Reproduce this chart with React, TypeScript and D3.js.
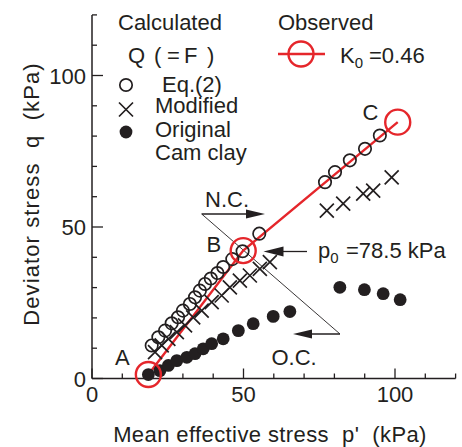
import React from "react";
import * as d3 from "d3";

// Observed K0 path (A, B, C)
const obsP = [18.6, 49.9, 100.9];
const obsQ = [1.3, 42.2, 84.6];
const obsLabels = ["A", "B", "C"];

// Calculated: Eq.(2) (open circles)
const eqP = [19.7, 21.9, 24.1, 26.3, 28.4, 30.0, 32.3, 34.0, 35.6, 37.3, 39.2, 41.4, 43.3, 46.3, 49.7, 55.2, 76.9, 80.2, 85.1, 90.1, 95.0];
const eqQ = [10.9, 13.6, 15.8, 18.2, 20.2, 22.4, 24.6, 26.8, 29.0, 31.2, 33.0, 34.8, 36.8, 39.4, 42.0, 47.8, 64.8, 68.1, 72.0, 75.8, 80.2];

// Calculated: Modified Cam clay (crosses)
const modP = [20.8, 23.0, 25.2, 28.0, 30.7, 33.4, 36.2, 39.5, 42.8, 45.5, 48.8, 52.1, 55.4, 58.7, 77.5, 82.9, 89.5, 92.8, 98.9];
const modQ = [8.7, 10.9, 13.1, 15.3, 17.5, 20.2, 22.4, 25.2, 27.4, 30.1, 32.3, 34.0, 36.2, 38.4, 55.4, 57.7, 61.0, 62.0, 66.4];

// Calculated: Original Cam clay (filled dots)
const camP = [18.6, 22.4, 25.2, 28.0, 31.3, 34.0, 36.7, 39.5, 43.3, 48.3, 53.2, 59.8, 65.3, 81.8, 89.9, 96.1, 101.7];
const camQ = [1.3, 2.6, 4.3, 5.9, 7.0, 8.2, 9.8, 11.5, 13.1, 15.8, 18.1, 20.5, 22.1, 30.1, 29.3, 28.0, 26.0];

const xTicks = d3.range(0, 121, 10);
const yTicks = d3.range(0, 121, 10);
const majorTicks = [0, 50, 100];

const INK = "#231f20";
const RED = "#e5262b";
const FONT = "'Liberation Sans', Arial, Helvetica, sans-serif";

export default function App() {
  const W = 462, H = 447;
  const x = d3.scaleLinear().domain([0, 120]).range([92, 455.6]);
  const y = d3.scaleLinear().domain([0, 120]).range([378.5, 14.9]);
  const line = d3.line<number>().x((_, i) => x(obsP[i])).y((_, i) => y(obsQ[i]));
  const fs = 22;

  const cross = (cx: number, cy: number, s: number, key: string) => (
    <path key={key} d={`M${cx - s},${cy - s}L${cx + s},${cy + s}M${cx - s},${cy + s}L${cx + s},${cy - s}`} stroke={INK} strokeWidth={1.7} fill="none" />
  );

  const arrowHead = (tipX: number, tipY: number, dir: number, len: number, half: number) => (
    <path d={`M${tipX},${tipY}L${tipX - dir * len},${tipY - half}L${tipX - dir * len},${tipY + half}Z`} fill={INK} />
  );

  return (
    <svg width={W} height={H} style={{ position: "absolute", left: 0, top: 0 }} fontFamily={FONT}>
      <rect width={W} height={H} fill="#fff" />
      {/* axes */}
      <line x1={x(0)} x2={x(120)} y1={y(0)} y2={y(0)} stroke={INK} strokeWidth={1.5} />
      <line x1={x(0)} x2={x(0)} y1={y(0)} y2={y(120)} stroke={INK} strokeWidth={1.5} />
      {xTicks.map((t) => (
        <line key={"xt" + t} x1={x(t)} x2={x(t)} y1={y(0)} y2={y(0) - (majorTicks.includes(t) ? 10 : 5)} stroke={INK} strokeWidth={1.3} />
      ))}
      {yTicks.map((t) => (
        <line key={"yt" + t} x1={x(0)} x2={x(0) + (majorTicks.includes(t) ? 11 : 5)} y1={y(t)} y2={y(t)} stroke={INK} strokeWidth={1.3} />
      ))}
      {majorTicks.map((t) => (
        <text key={"xl" + t} x={x(t)} y={402} textAnchor="middle" fontSize={fs} fill={INK}>{t}</text>
      ))}
      {majorTicks.map((t) => (
        <text key={"yl" + t} x={86} y={y(t) + 8} textAnchor="end" fontSize={fs} fill={INK}>{t}</text>
      ))}
      <text x={270} y={442} textAnchor="middle" fontSize={fs} fill={INK} xmlSpace="preserve" letterSpacing={0.4}>Mean effective stress  p'  (kPa)</text>
      <text transform="translate(39,194) rotate(-90)" textAnchor="middle" fontSize={fs} fill={INK} xmlSpace="preserve" letterSpacing={1.1}>Deviator stress  q  (kPa)</text>

      {/* annotation lines */}
      <line x1={201.7} y1={214} x2={340} y2={334} stroke={INK} strokeWidth={0.9} />
      <line x1={201.7} y1={214} x2={250} y2={214} stroke={INK} strokeWidth={1.3} />
      {arrowHead(265, 214, 1, 19, 4.5)}
      <line x1={340} y1={334} x2={305} y2={334} stroke={INK} strokeWidth={1.3} />
      {arrowHead(293, 334, -1, 19, 4.5)}
      <line x1={307} y1={251.5} x2={278} y2={251.5} stroke={INK} strokeWidth={1.3} />
      {arrowHead(263.5, 251.5, -1, 20, 5)}

      {/* observed path */}
      <path d={line(obsP) || ""} fill="none" stroke={RED} strokeWidth={2.4} />

      {/* calculated points */}
      {camP.map((p, i) => (
        <circle key={"c" + i} cx={x(p)} cy={y(camQ[i])} r={6.4} fill={INK} />
      ))}
      {modP.map((p, i) => cross(x(p), y(modQ[i]), 7, "m" + i))}
      {eqP.map((p, i) => (
        <circle key={"e" + i} cx={x(p)} cy={y(eqQ[i])} r={6.2} fill="none" stroke={INK} strokeWidth={1.7} />
      ))}

      {/* observed circles */}
      {obsP.map((p, i) => (
        <circle key={"o" + i} cx={x(p)} cy={y(obsQ[i])} r={12.5} fill="none" stroke={RED} strokeWidth={2.4} />
      ))}

      {/* point labels */}
      <text x={115} y={365} fontSize={fs} fill={INK}>{obsLabels[0]}</text>
      <text x={206.5} y={251.5} fontSize={fs} fill={INK}>{obsLabels[1]}</text>
      <text x={362.5} y={120} fontSize={fs} fill={INK}>{obsLabels[2]}</text>
      <text x={205} y={206.5} fontSize={fs} fill={INK}>N.C.</text>
      <text x={271.5} y={365} fontSize={fs} fill={INK}>O.C.</text>
      <text x={318} y={258} fontSize={fs} fill={INK}>
        p<tspan fontSize={15} dy={5}>0</tspan>
        <tspan dy={-5} x={346}>=78.5 kPa</tspan>
      </text>

      {/* legend */}
      <text x={118} y={29.5} fontSize={fs} fill={INK}>Calculated</text>
      <text y={63} fontSize={fs} fill={INK}>
        <tspan x={128}>Q</tspan>
        <tspan x={154}>(</tspan>
        <tspan x={167}>=</tspan>
        <tspan x={184}>F</tspan>
        <tspan x={207}>)</tspan>
      </text>
      <circle cx={126} cy={85} r={6.2} fill="none" stroke={INK} strokeWidth={1.7} />
      <text x={162} y={92} fontSize={fs} fill={INK}>Eq.(2)</text>
      {cross(126, 109.5, 7, "legm")}
      <text x={155} y={113} fontSize={fs} fill={INK}>Modified</text>
      <circle cx={126} cy={132} r={6.4} fill={INK} />
      <text x={155} y={137} fontSize={fs} fill={INK}>Original</text>
      <text x={155} y={159.5} fontSize={fs} fill={INK}>Cam clay</text>

      <text x={278} y={29.5} fontSize={fs} fill={INK}>Observed</text>
      <line x1={278} x2={325} y1={54} y2={54} stroke={RED} strokeWidth={2.4} />
      <circle cx={301} cy={54} r={12.5} fill="none" stroke={RED} strokeWidth={2.4} />
      <text x={340} y={63} fontSize={fs} fill={INK}>
        K<tspan fontSize={15} dy={5}>0</tspan>
        <tspan dy={-5} x={369}>=0.46</tspan>
      </text>
    </svg>
  );
}
